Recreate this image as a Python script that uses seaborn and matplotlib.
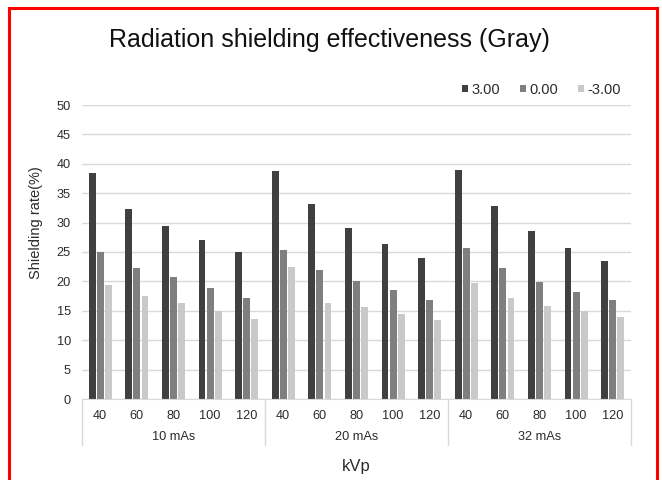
import numpy as np
import pandas as pd
import matplotlib
matplotlib.use("Agg")
import matplotlib.pyplot as plt
import matplotlib.transforms as mtransforms
from matplotlib.patches import Rectangle
import seaborn as sns

# ---------------------------------------------------------------------------
# data
# ---------------------------------------------------------------------------
groups = ["10 mAs", "20 mAs", "32 mAs"]
kvp = ["40", "60", "80", "100", "120"]
series = ["3.00", "0.00", "-3.00"]

vals_pos3 = [38.5, 32.3, 29.5, 27.0, 25.0,
             38.7, 33.2, 29.0, 26.3, 24.0,
             38.9, 32.8, 28.5, 25.6, 23.5]
vals_zero = [25.0, 22.2, 20.8, 18.8, 17.2,
             25.4, 22.0, 20.0, 18.6, 16.8,
             25.6, 22.2, 19.9, 18.2, 16.8]
vals_neg3 = [19.4, 17.6, 16.4, 15.0, 13.6,
             22.4, 16.4, 15.7, 14.5, 13.4,
             19.7, 17.2, 15.9, 15.0, 13.9]

colors = ["#404040", "#7f7f7f", "#c9c9c9"]
text_col = "#2b2b2b"

cats = [f"{g}|{k}" for g in groups for k in kvp]
df = pd.concat([
    pd.DataFrame({"cat": cats, "value": v, "series": s})
    for s, v in zip(series, [vals_pos3, vals_zero, vals_neg3])
], ignore_index=True)

# ---------------------------------------------------------------------------
# plot
# ---------------------------------------------------------------------------
sns.set_style("white")
plt.rcParams["font.family"] = ["Liberation Sans", "DejaVu Sans"]

fig = plt.figure(figsize=(6.62, 4.8), dpi=100)
ax = fig.add_axes([82 / 662, 1 - 399 / 480, 549 / 662, 294 / 480])

sns.barplot(data=df, x="cat", y="value", hue="series", order=cats,
            hue_order=series, palette=colors, saturation=1,
            width=0.66, gap=0.15, linewidth=0, ax=ax)

ax.set_xlim(-0.5, len(cats) - 0.5)
ax.set_ylim(0, 50)
ax.set_yticks(np.arange(0, 51, 5))
ax.yaxis.grid(True, color="#d9d9d9", linewidth=1)
ax.set_axisbelow(True)

for side in ["left", "right", "top"]:
    ax.spines[side].set_visible(False)
ax.spines["bottom"].set_color("#d9d9d9")

ax.set_xticks(range(len(cats)))
ax.set_xticklabels(kvp * len(groups))
ax.tick_params(axis="both", length=0, labelsize=9.2, colors=text_col)
ax.tick_params(axis="x", pad=8)
ax.tick_params(axis="y", pad=8)

# two-level category axis: separators + group names
trans = mtransforms.blended_transform_factory(ax.transData, ax.transAxes)
for b in np.arange(-0.5, len(cats), len(kvp)):
    ax.plot([b, b], [0, -0.156], transform=trans, color="#d9d9d9",
            linewidth=1, clip_on=False)
for i, g in enumerate(groups):
    ax.text(i * len(kvp) + 2, -0.13, g, transform=trans, ha="center",
            va="center", fontsize=9.2, color=text_col)

ax.set_xlabel("kVp", fontsize=12, color=text_col)
ax.xaxis.set_label_coords(0.5, -0.205)
ax.set_ylabel("Shielding rate(%)", fontsize=10.5, color=text_col)
ax.yaxis.set_label_coords(-0.071, 0.6)

fig.text(329 / 662, 1 - 40 / 480, "Radiation shielding effectiveness (Gray)",
         ha="center", va="center", fontsize=18, color="#111111")

sns.move_legend(ax, "center right", bbox_to_anchor=(621 / 662, 1 - 90 / 480),
                bbox_transform=fig.transFigure, ncol=3, frameon=False,
                title=None, fontsize=10.5, handlelength=0.4,
                handleheight=0.4, handletextpad=0.25, columnspacing=1.35,
                borderpad=0, borderaxespad=0)
for t in ax.get_legend().get_texts():
    t.set_color(text_col)

# red frame around the whole picture
fig.patches.append(Rectangle((9 / 662, -0.05), 648 / 662, 1.05 - 8 / 480,
                             transform=fig.transFigure, fill=False,
                             edgecolor="red", linewidth=2.2))

fig.savefig("out.png", dpi=100)
